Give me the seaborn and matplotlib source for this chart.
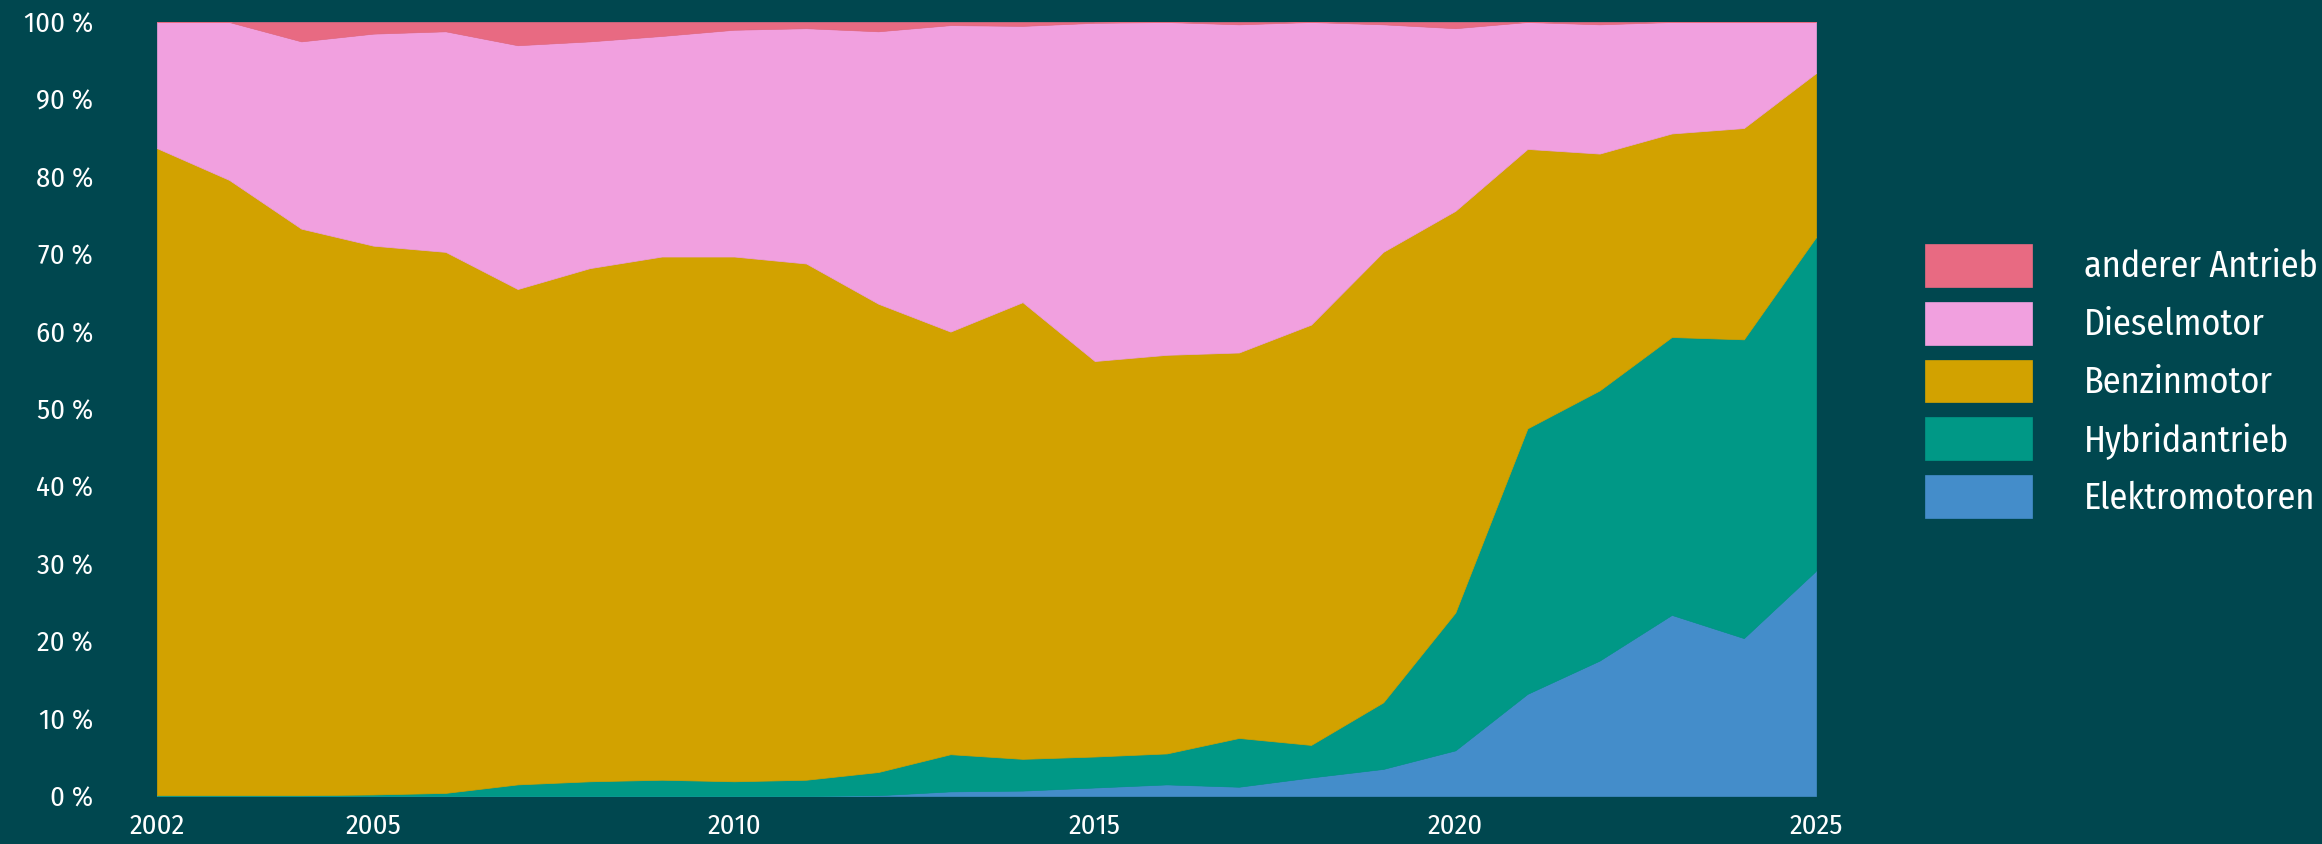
import os
import matplotlib
matplotlib.use("Agg")
import matplotlib.pyplot as plt
import matplotlib.font_manager as fm
import seaborn as sns

# Anteile der Neuzulassungen nach Antriebsart (in %)
years = list(range(2002, 2026))
elektro = [0, 0, 0, 0, 0, 0, 0, 0, 0, 0, 0.1, 0.6, 0.7, 1.1, 1.5, 1.2, 2.4, 3.5,
           5.9, 13.2, 17.5, 23.4, 20.4, 29.1]
hybrid = [0.1, 0.1, 0.1, 0.2, 0.4, 1.5, 1.9, 2.1, 1.9, 2.1, 3.0, 4.8, 4.1, 4.0,
          4.0, 6.3, 4.2, 8.6, 17.8, 34.3, 34.9, 35.9, 38.6, 43.1]
benzin = [83.6, 79.5, 73.2, 70.9, 69.9, 64.0, 66.3, 67.6, 67.8, 66.7, 60.5, 54.6,
          59.0, 51.1, 51.5, 49.8, 54.3, 58.2, 51.9, 36.1, 30.6, 26.3, 27.3, 21.2]
diesel = [16.3, 20.4, 24.2, 27.4, 28.5, 31.5, 29.3, 28.5, 29.3, 30.4, 35.2, 39.6,
          35.7, 43.7, 43.0, 42.4, 39.1, 29.4, 23.6, 16.4, 16.7, 14.4, 13.7, 6.6]
anderer = [0, 0, 2.5, 1.5, 1.2, 3.0, 2.5, 1.8, 1.0, 0.8, 1.2, 0.4, 0.5, 0.1, 0,
           0.3, 0, 0.3, 0.8, 0, 0.3, 0, 0, 0]

labels = ["Elektromotoren", "Hybridantrieb", "Benzinmotor", "Dieselmotor", "anderer Antrieb"]
colors = ["#448DCA", "#009886", "#D2A200", "#F1A0DF", "#E86A82"]
xticks = [2002, 2005, 2010, 2015, 2020, 2025]
yticks = list(range(0, 101, 10))

bg = "#00474F"
sns.set_theme(style="dark", rc={"figure.facecolor": bg, "axes.facecolor": bg,
                                "text.color": "white", "xtick.color": "white",
                                "ytick.color": "white"})
plt.rcParams["font.family"] = ["Noto Sans", "DejaVu Sans"]

# schmale Schrift wie im Original
files = {os.path.basename(f.fname): f.fname for f in fm.fontManager.ttflist}
fp = None
for cand in ["FiraSansCondensed-Regular.ttf", "RobotoCondensed-Regular.ttf",
             "PT_Sans-Narrow-Web-Regular.ttf", "OpenSans-CondLight.ttf"]:
    if cand in files:
        fp = fm.FontProperties(fname=files[cand])
        break
scale = 1.0
if fp is None:
    fp = fm.FontProperties(family="Noto Sans")
    scale = 0.8

fig = plt.figure(figsize=(23.22, 8.44), dpi=100)
ax = fig.add_axes([157 / 2322, 1 - 796 / 844, (1816 - 157) / 2322, (796 - 22) / 844])

ax.stackplot(years, elektro, hybrid, benzin, diesel, anderer, colors=colors,
             labels=labels, edgecolor="face", linewidth=0.5)

ax.set_xlim(2002, 2025)
ax.set_ylim(0, 100)
ax.set_xticks(xticks)
ax.set_yticks(yticks)
ax.set_yticklabels([f"{v} %" for v in yticks])
ax.tick_params(axis="y", length=0, pad=46)
ax.tick_params(axis="x", length=0, pad=12)
for t in ax.get_xticklabels() + ax.get_yticklabels():
    t.set_fontproperties(fp)
    t.set_fontsize(20.5 * scale)
ax.grid(False)
for s in ax.spines.values():
    s.set_visible(False)

h, l = ax.get_legend_handles_labels()
lp = fp.copy()
lp.set_size(26 * scale)
fig.legend(h[::-1], l[::-1], loc="center left",
           bbox_to_anchor=(1925 / 2322, 1 - 381 / 844), bbox_transform=fig.transFigure,
           frameon=False, prop=lp, handlelength=2.95, handleheight=1.455,
           handletextpad=1.45, labelspacing=0.41, borderpad=0, borderaxespad=0,
           labelcolor="white")

fig.savefig("out.png", dpi=100, facecolor=bg)
